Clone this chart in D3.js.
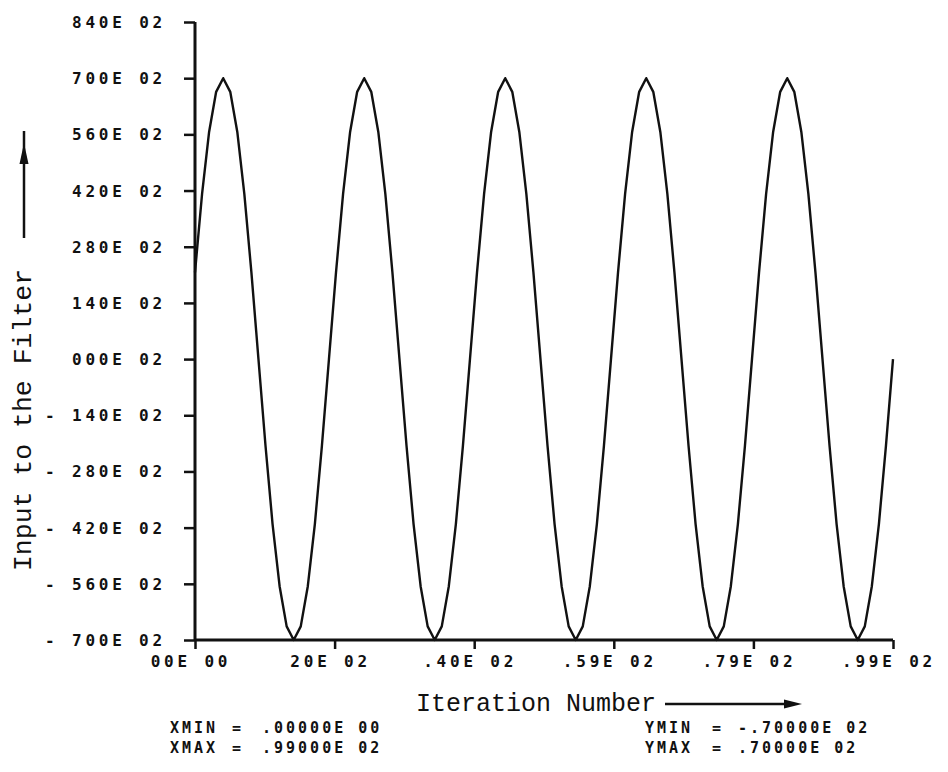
<!DOCTYPE html>
<html lang="en">
<head>
  <meta charset="UTF-8">
  <title>Input to the Filter</title>
  <script src="https://d3js.org/d3.v7.min.js"></script>
  <style>
    body { margin: 0; background: #fff; }
    .tick-label { font-family: "DejaVu Sans Mono", monospace; font-weight: bold; font-size: 16px; letter-spacing: 3.8px; fill: #111; }
    .title { font-family: "Liberation Mono", "Courier New", monospace; font-size: 25px; fill: #111; }
    .stats { font-family: "DejaVu Sans Mono", monospace; font-weight: bold; font-size: 15px; letter-spacing: 3px; fill: #111; }
    .curve { fill: none; stroke: #111; stroke-width: 2.4; stroke-linejoin: round; }
  </style>
</head>
<body>
  <svg width="948" height="772"></svg>
  <script>
    // input samples, one per iteration
    const inputValues = [
      21.6, 41.1, 56.6, 66.6, 70.0, 66.6, 56.6, 41.1, 21.6, 0.0,
      -21.6, -41.1, -56.6, -66.6, -70.0, -66.6, -56.6, -41.1, -21.6, 0.0,
      21.6, 41.1, 56.6, 66.6, 70.0, 66.6, 56.6, 41.1, 21.6, 0.0,
      -21.6, -41.1, -56.6, -66.6, -70.0, -66.6, -56.6, -41.1, -21.6, 0.0,
      21.6, 41.1, 56.6, 66.6, 70.0, 66.6, 56.6, 41.1, 21.6, 0.0,
      -21.6, -41.1, -56.6, -66.6, -70.0, -66.6, -56.6, -41.1, -21.6, 0.0,
      21.6, 41.1, 56.6, 66.6, 70.0, 66.6, 56.6, 41.1, 21.6, 0.0,
      -21.6, -41.1, -56.6, -66.6, -70.0, -66.6, -56.6, -41.1, -21.6, 0.0,
      21.6, 41.1, 56.6, 66.6, 70.0, 66.6, 56.6, 41.1, 21.6, 0.0,
      -21.6, -41.1, -56.6, -66.6, -70.0, -66.6, -56.6, -41.1, -21.6, 0.0
    ];

    const yTicks = [84, 70, 56, 42, 28, 14, 0, -14, -28, -42, -56, -70];
    const yTickLabels = ["840E 02", "700E 02", "560E 02", "420E 02", "280E 02", "140E 02",
                         "000E 02", "- 140E 02", "- 280E 02", "- 420E 02", "- 560E 02", "- 700E 02"];
    const xTicks = [0, 19.8, 39.6, 59.4, 79.2, 99];
    const xTickLabels = ["00E 00", "20E 02", ".40E 02", ".59E 02", ".79E 02", ".99E 02"];

    const statLines = [
      ["XMIN", ".00000E 00", "YMIN", "-.70000E 02"],
      ["XMAX", ".99000E 02", "YMAX", ".70000E 02"]
    ];

    const svg = d3.select("svg");

    const x = d3.scaleLinear().domain([0, 99]).range([195, 893]);
    const y = d3.scaleLinear().domain([-70, 84]).range([640, 22]);

    // y axis, ticks to the left
    const yAxis = svg.append("g")
      .attr("transform", `translate(${x(0)},0)`)
      .call(d3.axisLeft(y).tickValues(yTicks).tickSize(11).tickFormat(""));
    yAxis.select(".domain").attr("d", `M0,${y(84)}V${y(-70)}`).attr("stroke", "#111").attr("stroke-width", 3);
    yAxis.selectAll(".tick line").attr("stroke", "#111").attr("stroke-width", 2.5);

    // x axis, ticks downward
    const xAxis = svg.append("g")
      .attr("transform", `translate(0,${y(-70)})`)
      .call(d3.axisBottom(x).tickValues(xTicks).tickSize(9).tickFormat(""));
    xAxis.select(".domain").attr("d", `M${x(0)},0H${x(99)}`).attr("stroke", "#111").attr("stroke-width", 3);
    xAxis.selectAll(".tick line").attr("stroke", "#111").attr("stroke-width", 2.5);

    svg.selectAll(".ylab")
      .data(yTicks)
      .enter().append("text")
      .attr("class", "tick-label")
      .attr("x", 166)
      .attr("y", d => y(d) + 6)
      .attr("text-anchor", "end")
      .text((d, i) => yTickLabels[i]);

    svg.selectAll(".xlab")
      .data(xTicks)
      .enter().append("text")
      .attr("class", "tick-label")
      .attr("x", d => x(d) - 4)
      .attr("y", 667)
      .attr("text-anchor", "middle")
      .text((d, i) => xTickLabels[i]);

    const line = d3.line()
      .x((d, i) => x(i))
      .y(d => y(d));

    svg.append("path")
      .datum(inputValues)
      .attr("class", "curve")
      .attr("d", line);

    // axis titles with arrows
    svg.append("text")
      .attr("class", "title")
      .attr("transform", "translate(31,420) rotate(-90)")
      .attr("text-anchor", "middle")
      .style("font-size", "26.5px")
      .text("Input to the Filter");

    svg.append("line")
      .attr("x1", 24).attr("x2", 24).attr("y1", 131).attr("y2", 238)
      .attr("stroke", "#111").attr("stroke-width", 2.5);
    svg.append("path")
      .attr("d", "M24,143L19.5,164L28.5,164Z")
      .attr("fill", "#111");

    svg.append("text")
      .attr("class", "title")
      .attr("x", 536)
      .attr("y", 711)
      .attr("text-anchor", "middle")
      .text("Iteration Number");

    svg.append("line")
      .attr("x1", 665).attr("x2", 790).attr("y1", 704).attr("y2", 704)
      .attr("stroke", "#111").attr("stroke-width", 2.5);
    svg.append("path")
      .attr("d", "M802,704L784,699.5L784,708.5Z")
      .attr("fill", "#111");

    // min / max summary
    const stats = svg.append("g");
    statLines.forEach((row, i) => {
      const yy = 733 + i * 20;
      stats.append("text").attr("class", "stats").attr("x", 170).attr("y", yy).text(row[0]);
      stats.append("text").attr("class", "stats").attr("x", 232).attr("y", yy).text("=");
      stats.append("text").attr("class", "stats").attr("x", 262).attr("y", yy).text(row[1]);
      stats.append("text").attr("class", "stats").attr("x", 645).attr("y", yy).text(row[2]);
      stats.append("text").attr("class", "stats").attr("x", 712).attr("y", yy).text("=");
      stats.append("text").attr("class", "stats").attr("x", 738).attr("y", yy).text(row[3]);
    });
  </script>
</body>
</html>
